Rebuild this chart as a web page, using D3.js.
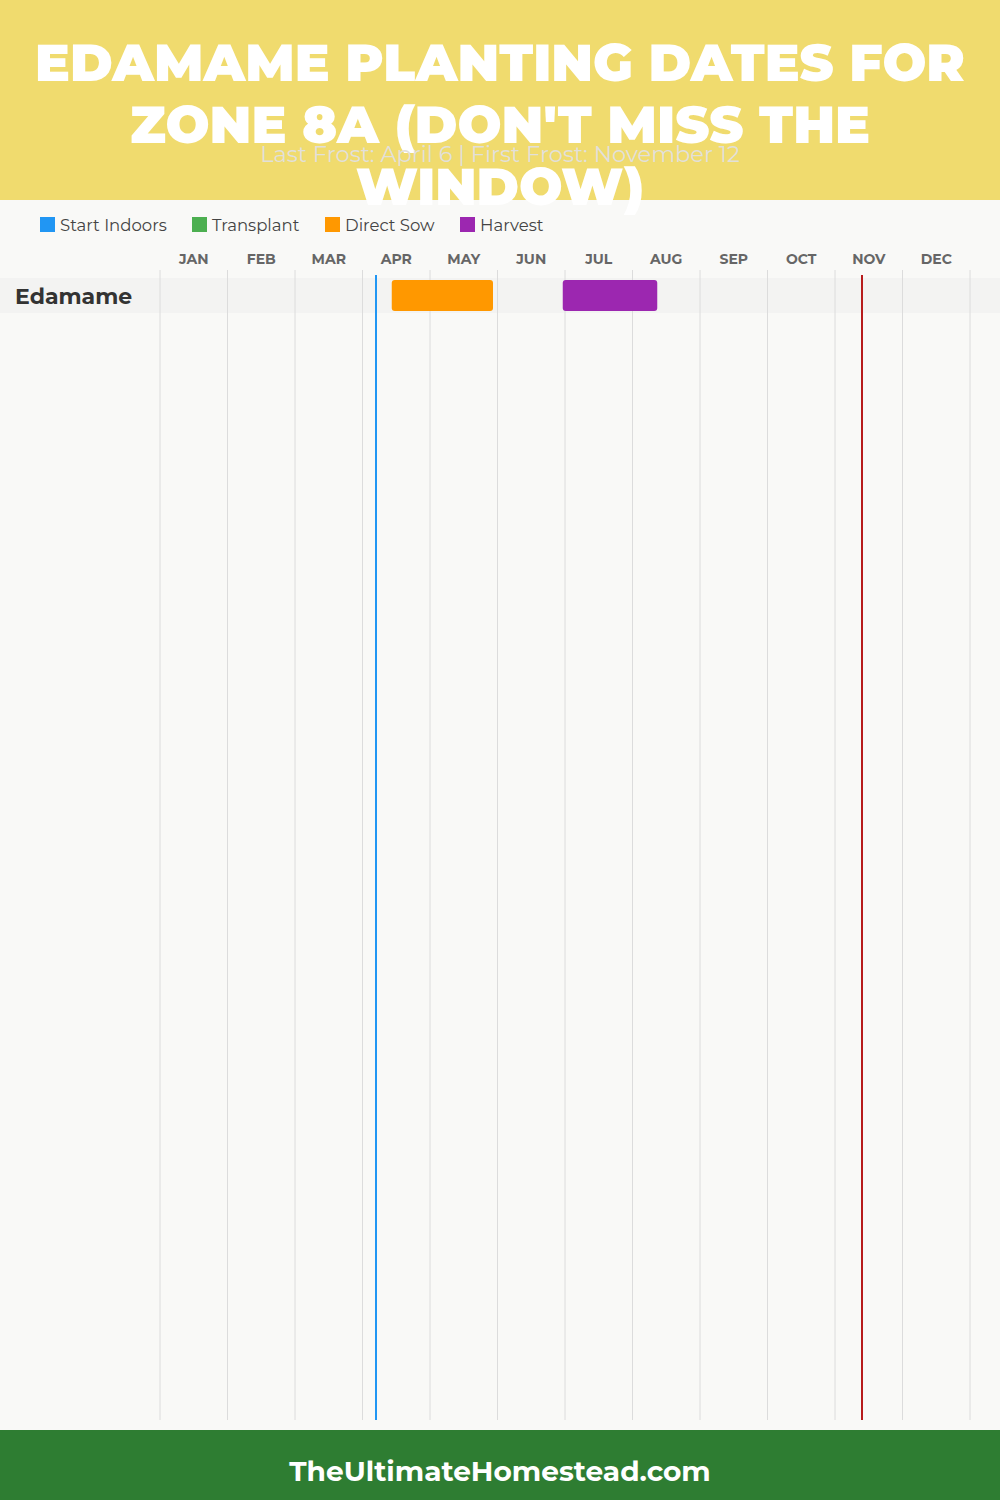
<!DOCTYPE html>
<html><head><meta charset="utf-8">
<script src="https://cdn.jsdelivr.net/npm/d3@7"></script>
<style>body{margin:0;background:#f9f9f7;}svg{display:block;}</style>
</head><body><svg id="c" width="1000" height="1500"></svg>
<script>
const months = ["JAN","FEB","MAR","APR","MAY","JUN","JUL","AUG","SEP","OCT","NOV","DEC"];
const crops = ["Edamame"];
const legendItems = ["Start Indoors","Transplant","Direct Sow","Harvest"];
const legendColors = ["#2196f3","#4caf50","#ff9800","#9c27b0"];
// tasks: [crop, type, start month index (0=Jan), start day, end month index, end day]
const taskCrop = ["Edamame","Edamame"];
const taskType = ["Direct Sow","Harvest"];
const taskStart = [[3,13],[5,29]];
const taskEnd = [[4,28],[7,11]];
const lastFrost = [3,6];
const firstFrost = [10,12];
const titleLines = ["EDAMAME PLANTING DATES FOR","ZONE 8A (DON'T MISS THE","WINDOW)"];
const subtitle = "Last Frost: April 6 | First Frost: November 12";
const footer = "TheUltimateHomestead.com";

const svg = d3.select("#c");
const F = "Montserrat, 'Open Sans', 'Noto Sans', sans-serif";
svg.append("rect").attr("width",1000).attr("height",1500).attr("fill","#f9f9f7");
svg.append("rect").attr("width",1000).attr("height",200).attr("fill","#f0db6e");

const x = d3.scaleLinear().domain([0,12]).range([160,970]);
const pos = d => x(d[0] + d[1]/30);
const y = d3.scaleBand().domain(crops).range([278,313]);

// row band
svg.selectAll(".band").data(crops).join("rect")
  .attr("x",0).attr("width",1000).attr("y",d=>y(d)).attr("height",y.bandwidth()).attr("fill","#f3f3f2");

// grid
svg.selectAll(".grid").data(d3.range(13)).join("line")
  .attr("x1",d=>x(d)).attr("x2",d=>x(d)).attr("y1",270).attr("y2",1420)
  .attr("stroke","#dcdcdc").attr("stroke-width",1);

// month labels
svg.selectAll(".mon").data(months).join("text")
  .attr("x",(d,i)=>x(i+0.5)).attr("y",264).attr("text-anchor","middle")
  .attr("font-family",F).attr("font-weight",700).attr("font-size",14).attr("fill","#666")
  .text(d=>d);

// crop labels
svg.selectAll(".crop").data(crops).join("text")
  .attr("x",15).attr("y",d=>y(d)+y.bandwidth()/2+8).attr("font-family",F).attr("font-weight",700)
  .attr("font-size",22).attr("fill","#333").text(d=>d);

// bars
const color = d3.scaleOrdinal().domain(legendItems).range(legendColors);
svg.selectAll(".bar").data(taskType).join("rect")
  .attr("x",(d,i)=>pos(taskStart[i])).attr("width",(d,i)=>pos(taskEnd[i])-pos(taskStart[i]))
  .attr("y",(d,i)=>y(taskCrop[i])+2).attr("height",y.bandwidth()-4).attr("rx",3)
  .attr("fill",d=>color(d));

// frost lines
svg.append("line").attr("x1",pos(lastFrost)).attr("x2",pos(lastFrost)).attr("y1",275).attr("y2",1420)
  .attr("stroke","#2196f3").attr("stroke-width",2);
svg.append("line").attr("x1",pos(firstFrost)).attr("x2",pos(firstFrost)).attr("y1",275).attr("y2",1420)
  .attr("stroke","#b71c1c").attr("stroke-width",2);

// legend
const legX = [40,192,325,460];
const lg = svg.selectAll(".leg").data(legendItems).join("g").attr("transform",(d,i)=>`translate(${legX[i]},217)`);
lg.append("rect").attr("width",15).attr("height",15).attr("fill",d=>color(d));
lg.append("text").attr("x",20).attr("y",14).attr("font-family",F).attr("font-size",16.5).attr("fill","#444").text(d=>d);

// title
const tw = [930,740,288];
svg.selectAll(".title").data(titleLines).join("text")
  .attr("x",500).attr("y",(d,i)=>81+i*62).attr("text-anchor","middle")
  .attr("font-family",F).attr("font-weight",900).attr("font-size",52).attr("fill","#fff")
  .attr("textLength",(d,i)=>tw[i]).attr("lengthAdjust","spacingAndGlyphs").text(d=>d);

// subtitle (drawn over the title, as in the reference)
svg.append("text").attr("x",500).attr("y",162).attr("text-anchor","middle").attr("font-family",F)
  .attr("font-weight",400).attr("font-size",22.5).attr("fill","#e2e0da").text(subtitle);

// footer
svg.append("rect").attr("y",1430).attr("width",1000).attr("height",70).attr("fill","#2e7d32");
svg.append("text").attr("x",500).attr("y",1481).attr("text-anchor","middle").attr("font-family",F)
  .attr("font-weight",700).attr("font-size",28).attr("fill","#fff").text(footer);
</script></body></html>
